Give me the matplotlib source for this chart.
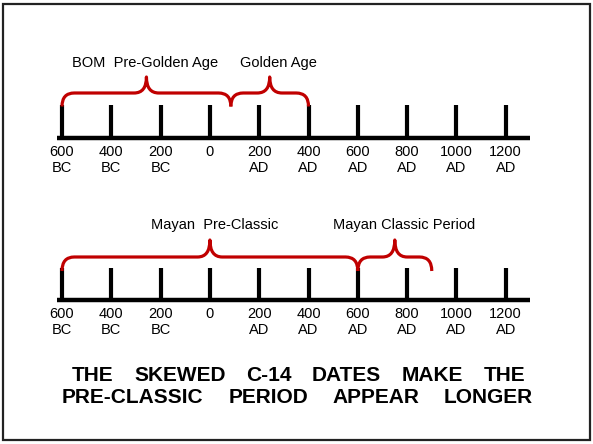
import matplotlib
matplotlib.use("Agg")
import matplotlib.pyplot as plt
from matplotlib.path import Path
from matplotlib.patches import PathPatch, Rectangle

plt.rcParams['font.family'] = ['Liberation Sans', 'DejaVu Sans']

# timeline data
years = [-600, -400, -200, 0, 200, 400, 600, 800, 1000, 1200]
num_labels = ["600", "400", "200", "0", "200", "400", "600", "800", "1000", "1200"]
era_labels = ["BC", "BC", "BC", "", "AD", "AD", "AD", "AD", "AD", "AD"]

# periods shown by braces (start year, end year)
top_periods = [(-600, 85), (85, 400)]
top_names = ["BOM  Pre-Golden Age", "Golden Age"]
top_name_x = [-263, 276]

bottom_periods = [(-600, 600), (600, 900)]
bottom_names = ["Mayan  Pre-Classic", "Mayan Classic Period"]
bottom_name_x = [21, 787]

caption = ["THE SKEWED C-14 DATES MAKE THE", "PRE-CLASSIC PERIOD APPEAR LONGER"]

RED = "#C00000"
FS = 10.5

fig = plt.figure(figsize=(5.93, 4.44), dpi=100)
ax = fig.add_axes([0, 0, 1, 1])
# x in years, y in pixels from top
ax.set_xlim(-851.5, 1554)
ax.set_ylim(444, 0)
ax.axis("off")


def brace(x0, x1, y_end, y_flat, y_tip, rx=50):
    xm = (x0 + x1) / 2
    verts = [(x0, y_end), (x0, y_flat), (x0 + rx, y_flat),
             (xm - rx, y_flat),
             (xm, y_flat), (xm, y_tip),
             (xm, y_flat), (xm + rx, y_flat),
             (x1 - rx, y_flat),
             (x1, y_flat), (x1, y_end)]
    codes = [Path.MOVETO, Path.CURVE3, Path.CURVE3,
             Path.LINETO,
             Path.CURVE3, Path.CURVE3,
             Path.CURVE3, Path.CURVE3,
             Path.LINETO,
             Path.CURVE3, Path.CURVE3]
    ax.add_patch(PathPatch(Path(verts, codes), fill=False, edgecolor=RED,
                           lw=2.3, capstyle="butt", joinstyle="round", zorder=3))


def timeline(y_base, y_top):
    ax.plot([-620, 1300], [y_base, y_base], color="black", lw=3.2, solid_capstyle="butt")
    for yr, n, e in zip(years, num_labels, era_labels):
        ax.plot([yr, yr], [y_base, y_top], color="black", lw=3.0, solid_capstyle="butt")
        ax.text(yr, y_base + 14, n, ha="center", va="center", fontsize=FS)
        if e:
            ax.text(yr, y_base + 30, e, ha="center", va="center", fontsize=FS)


timeline(138, 105)
for (a, b) in top_periods:
    brace(a, b, 106.5, 93, 77)
for name, x in zip(top_names, top_name_x):
    ax.text(x, 63, name, ha="center", va="center", fontsize=FS)

timeline(300, 268)
for (a, b) in bottom_periods:
    brace(a, b, 271, 257, 240)
for name, x in zip(bottom_names, bottom_name_x):
    ax.text(x, 225, name, ha="center", va="center", fontsize=FS)

# justified bold caption
fig.canvas.draw()
renderer = fig.canvas.get_renderer()
for line, y, (left, right) in zip(caption, [381, 403], [(72, 525), (62, 533)]):
    words = line.split()
    texts = [fig.text(0, 0, w, fontsize=15, fontweight="bold", va="baseline")
             for w in words]
    widths = [t.get_window_extent(renderer).width for t in texts]
    gap = (right - left - sum(widths)) / (len(words) - 1)
    x = left
    for t, w in zip(texts, widths):
        t.set_position((x / 593, 1 - y / 444))
        x += w + gap

fig.add_artist(Rectangle((3 / 593, 4 / 444), 587 / 593, 436 / 444,
                         transform=fig.transFigure, fill=False,
                         edgecolor="#222222", lw=1.6))

fig.savefig("out.png", dpi=100)
